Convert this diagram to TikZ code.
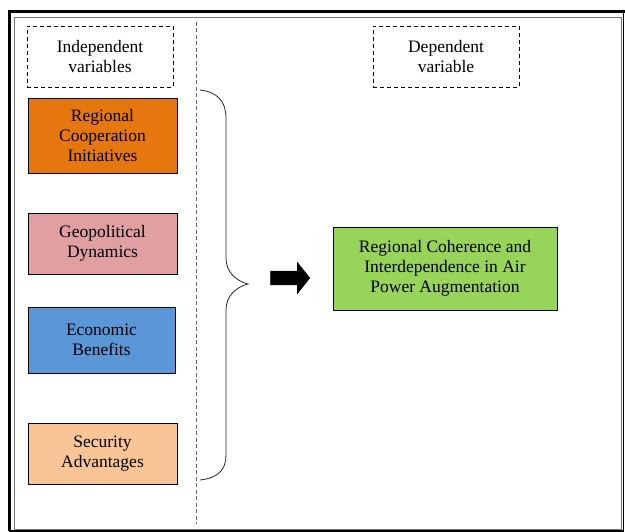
\documentclass[tikz,border=0pt]{standalone}
\usepackage{fontspec}
\setmainfont{Liberation Serif}
\usetikzlibrary{shapes.arrows}

\definecolor{coopOrange}{HTML}{E6770F}
\definecolor{geoPink}{HTML}{E0A0A2}
\definecolor{ecoBlue}{HTML}{5B97D7}
\definecolor{secPeach}{HTML}{F9C597}
\definecolor{outGreen}{HTML}{99D45A}

\begin{document}
\begin{tikzpicture}[
    x=1pt, y=-1pt,
    box/.style={draw, align=center, inner sep=0pt,
                font=\fontsize{17.5}{20}\selectfont, line width=0.8pt},
    varbox/.style={box, minimum width=149pt},
    headbox/.style={box, dash pattern=on 4pt off 3pt, line width=0.7pt,
                    minimum width=146pt, minimum height=61pt},
    divider/.style={draw=black!60, dash pattern=on 4pt off 2.5pt, line width=0.8pt},
    brace/.style={draw=black!85, line width=0.8pt},
    bigarrow/.style={single arrow, fill=black, draw=black, line width=0.6pt,
                     inner xsep=0pt, inner ysep=6.5pt,
                     minimum width=30pt, minimum height=39pt,
                     single arrow head extend=8.5pt, single arrow tip angle=103}
]
\useasboundingbox (0,0) rectangle (625,532);

% frame
\draw[line width=3pt] (9,531) -- (9,11.5) -- (625,11.5);
\draw[line width=1.5pt] (623.5,11.5) -- (623.5,531.2) -- (9,531.2);
\draw[black!55, line width=0.6pt] (14,17) rectangle (621.5,529.5);

% column headings
\node[headbox] (indep) at (100,56.5)  {Independent\\variables};
\node[headbox] (dep)   at (446,56.5)  {Dependent\\variable};
\draw[divider] (196.5,22) -- (196.5,524);

% independent variables
\node[varbox, fill=coopOrange, minimum height=75pt] (coop) at (102.5,135.5) {Regional\\Cooperation\\Initiatives};
\node[varbox, fill=geoPink,    minimum height=61pt] (geo)  at (102.5,243.5) {Geopolitical\\Dynamics};
\node[varbox, fill=ecoBlue,    minimum height=66pt, minimum width=147pt] (eco) at (101.5,340) {Economic\\Benefits};
\node[varbox, fill=secPeach,   minimum height=61pt] (sec)  at (102.5,453.5) {Security\\Advantages};

% brace
\draw[brace] (200,90) .. controls (218,92) and (226,102) .. (226,118) -- (226,258)
             .. controls (226,272) and (236,281) .. (248,284)
             .. controls (236,287) and (226,296) .. (226,310) -- (226,455)
             .. controls (226,470) and (218,478) .. (200,480);

% dependent variable
\node[bigarrow] (arrow) at (287.5,278) {};
\node[box, fill=outGreen, minimum width=224pt, minimum height=83pt] (out) at (445,268.5)
     {Regional Coherence and\\Interdependence in Air\\Power Augmentation};
\end{tikzpicture}
\end{document}
